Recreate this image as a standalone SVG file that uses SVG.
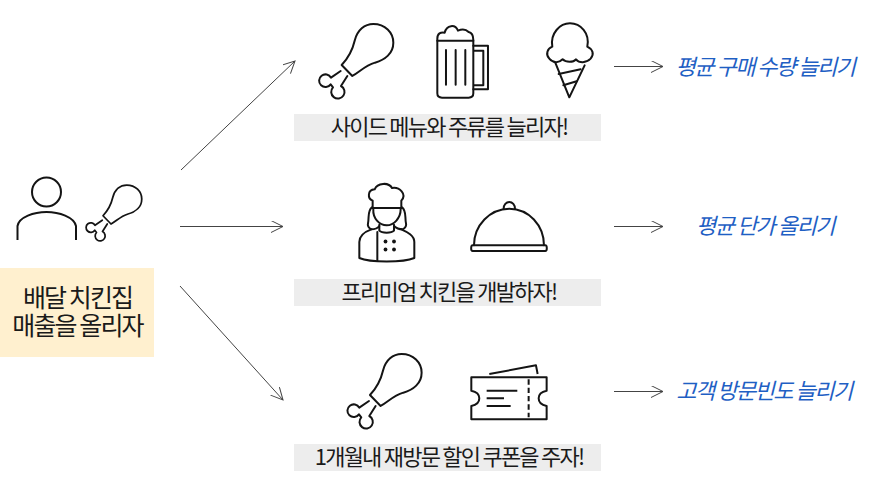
<svg xmlns="http://www.w3.org/2000/svg" xmlns:xlink="http://www.w3.org/1999/xlink" width="880" height="490" viewBox="0 0 880 490">
<style>
.k{font-family:"Noto Sans CJK KR","Noto Sans",sans-serif;fill:#1a1a1a;text-anchor:middle}
.cap{font-size:22px;letter-spacing:-1.77px}
.main{font-size:25px;letter-spacing:-1.9px}
.goal{font-size:22px;letter-spacing:-1.5px;fill:#1f5fc4;font-style:italic}
.ic{fill:none;stroke:#141414;stroke-width:2;stroke-linejoin:round;stroke-linecap:round}
.cn{fill:none;stroke:#444;stroke-width:1}
</style>
<defs>
<g id="drum">
<path d="M155 165C180 138 188 118 194 92C202 60 224 42 250 42C285 42 310 68 310 98C310 130 285 150 255 158C225 167 210 185 187 198L155 165Z"/>
<path d="M152 183L123 203A19 19 0 1 0 122 223L129 232A20 20 0 1 0 153 228L172 198"/>
</g>
<marker id="ah" markerWidth="14" markerHeight="14" refX="12" refY="6" orient="auto" markerUnits="userSpaceOnUse"><path d="M0 0L12 6L0 12" fill="none" stroke="#444" stroke-width="1"/></marker>
</defs>
<rect width="880" height="490" fill="#fff"/>
<g id="connectors">
<path class="cn" marker-end="url(#ah)" d="M181 170L295 61"/>
<path class="cn" marker-end="url(#ah)" d="M180 226.500L283 226.500"/>
<path class="cn" marker-end="url(#ah)" d="M180 286L283 400"/>
<path class="cn" marker-end="url(#ah)" d="M614 66.500L663 66.500"/>
<path class="cn" marker-end="url(#ah)" d="M614 226.500L663 226.500"/>
<path class="cn" marker-end="url(#ah)" d="M614 391.500L663 391.500"/>
</g>
<g id="node-goal">
<g class="ic">
<circle cx="46.500" cy="192" r="14.500"/>
<path d="M17.500 240V226C19 217 34 212 46.500 212C59 212 74 217 76 226V240" stroke-linecap="butt"/>
</g>
<g class="ic" transform="translate(64.250 174.500) scale(.25)" style="stroke-width:7"><use xlink:href="#drum"/></g>
<rect x="0" y="268" width="154" height="89" fill="#fff0cf"/>
<text class="k main" x="77.500" y="307">배달 치킨집<tspan x="77.500" y="335">매출을 올리자</tspan></text>
</g>
<g id="node-side">
<g class="ic" transform="translate(290 10) scale(.3333)" style="stroke-width:6"><use xlink:href="#drum"/></g>
<g class="ic" transform="translate(290 10) scale(.3333)" style="stroke-width:6">
<path d="M442 86C442 70 452 66 464 68C470 44 496 42 504 62C518 56 530 60 536 66C546 68 550 76 550 90V250C550 258 544 263 536 263H456C448 263 442 258 442 250Z"/>
<path d="M442 92H550"/>
<path d="M468 120V224M497 120V224M526 120V224"/>
<path d="M550 107H594V238H550M552 122H580V226H552"/>
</g>
<g class="ic" transform="translate(290 10) scale(.3333)" style="stroke-width:6">
<path d="M787 110C780 70 810 40 840 40C872 40 900 70 892 110C908 118 914 132 902 146C888 160 868 160 858 148C850 158 828 158 818 148C806 160 790 160 778 146C766 132 772 116 787 110Z"/>
<path d="M796 158L838 262L884 166"/>
<path d="M806 192L872 178M820 226L860 214"/>
</g>
<rect x="294" y="114" width="307" height="27" fill="#ededed"/>
<text class="k cap" x="449" y="135">사이드 메뉴와 주류를 늘리자!</text>
</g>
<g id="node-premium">
<g class="ic" transform="translate(290 170) scale(.3333)" style="stroke-width:6">
<path d="M248 104V92C232 86 232 60 254 58C262 38 296 36 306 54C328 50 352 72 334 92V114H248Z"/>
<path d="M248 114H334M250 118C248 144 268 166 290 166C312 166 332 144 332 118"/>
<path d="M246 112C232 122 238 140 234 160C232 168 236 174 244 178C252 178 262 176 268 168M336 112C350 122 344 140 348 160C350 168 346 174 338 178C330 178 320 176 312 168"/>
<path d="M268 164V182C276 190 304 190 312 182V164"/>
<path d="M244 178C222 186 208 196 208 216V264C240 278 340 278 373 264V216C373 196 352 186 334 178"/>
<path d="M262 186V272"/>
</g>
<g fill="#141414"><circle cx="385.500" cy="241.500" r="1.900"/><circle cx="394" cy="241.500" r="1.900"/><circle cx="385.500" cy="249.500" r="1.900"/><circle cx="394" cy="249.500" r="1.900"/></g>
<g class="ic" transform="translate(290 170) scale(.3333)" style="stroke-width:6">
<path d="M552 226C552 166 600 116 658 116C716 116 762 166 762 226"/>
<path d="M641 116A17 20 0 0 1 675 116"/>
<path d="M548 226H766C772 226 772 243 766 243H548C542 243 542 226 548 226Z"/>
</g>
<rect x="294" y="279" width="307" height="27" fill="#ededed"/>
<text class="k cap" x="449" y="300">프리미엄 치킨을 개발하자!</text>
</g>
<g id="node-coupon">
<g class="ic" transform="translate(318.300 340) scale(.3333)" style="stroke-width:6"><use xlink:href="#drum"/></g>
<g class="ic" transform="translate(290 340) scale(.3333)" style="stroke-width:6;stroke-linecap:butt">
<path d="M544 112H770V152C738 158 738 192 770 198V238H544V198C576 192 576 158 544 152Z"/>
<path d="M598 102L738 76L743 102"/>
<path d="M590 152H682M590 175H642M590 198H662"/>
<path d="M716 118V232" stroke-dasharray="16 9"/>
</g>
<rect x="294" y="444" width="307" height="27" fill="#ededed"/>
<text class="k cap" x="449" y="465">1개월내 재방문 할인 쿠폰을 주자!</text>
</g>
<g id="node-results">
<text class="k goal" x="765" y="75">평균 구매 수량 늘리기</text>
<text class="k goal" x="765" y="234">평균 단가 올리기</text>
<text class="k goal" x="764" y="399">고객 방문빈도 늘리기</text>
</g>
</svg>
